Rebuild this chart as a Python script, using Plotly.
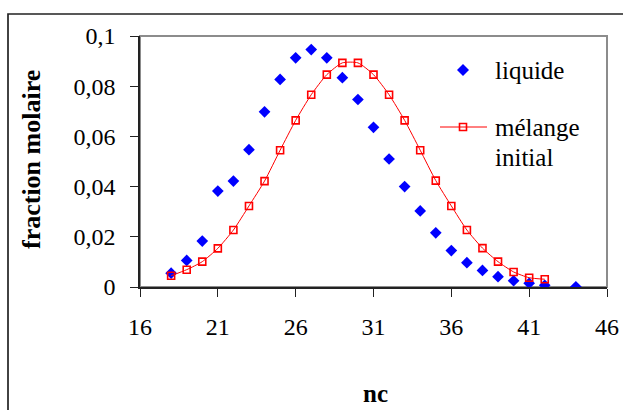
import plotly.graph_objects as go

# --- data ---
nc_liquide = [18, 19, 20, 21, 22, 23, 24, 25, 26, 27, 28, 29, 30, 31, 32, 33, 34,
              35, 36, 37, 38, 39, 40, 41, 42, 44]
frac_liquide = [0.0055, 0.0106, 0.0183, 0.0382, 0.0422, 0.0547, 0.0698, 0.0827,
                0.0913, 0.0946, 0.0913, 0.0834, 0.0747, 0.0636, 0.0510, 0.0400,
                0.0303, 0.0216, 0.0145, 0.0097, 0.0066, 0.0041, 0.0025, 0.0015,
                0.0007, 0.0001]

nc_melange = [18, 19, 20, 21, 22, 23, 24, 25, 26, 27, 28, 29, 30, 31, 32, 33, 34,
              35, 36, 37, 38, 39, 40, 41, 42]
frac_melange = [0.0045, 0.0069, 0.0101, 0.0154, 0.0227, 0.0323, 0.0422, 0.0545,
                0.0664, 0.0766, 0.0846, 0.0893, 0.0893, 0.0846, 0.0766, 0.0664,
                0.0545, 0.0424, 0.0323, 0.0227, 0.0155, 0.0101, 0.0060, 0.0037,
                0.0031]

x_ticks = [16, 21, 26, 31, 36, 41, 46]
y_ticks = [0, 0.02, 0.04, 0.06, 0.08, 0.1]
y_ticktext = ["0", "0,02", "0,04", "0,06", "0,08", "0,1"]

legend_names = ["liquide", "mélange", "initial"]

FONT = "Liberation Serif"
BLUE = "#0000FF"
RED = "#FF0000"

# geometry helpers (pixels -> paper)
L, R, T, B = 140, 607, 36, 287
W, H = 623, 410
def px(x):
    return (x - L) / (R - L)
def py(y):
    return (B - y) / (B - T)

fig = go.Figure()

fig.add_trace(go.Scatter(
    x=nc_liquide, y=frac_liquide, mode="markers", name="liquide",
    showlegend=False,
    marker=dict(symbol="diamond", size=9, color=BLUE, line=dict(width=0)),
))
fig.add_trace(go.Scatter(
    x=nc_melange, y=frac_melange, mode="lines+markers", name="mélange initial",
    showlegend=False,
    line=dict(color=RED, width=1, shape="spline", smoothing=0.6),
    marker=dict(symbol="square-open", size=7, color=RED,
                line=dict(width=1.6, color=RED)),
))

# legend glyphs (layout shapes, pixel positions)
dcx, dcy, dr = 463, 70, 6
diamond_path = "M {} {} L {} {} L {} {} L {} {} Z".format(
    px(dcx), py(dcy - dr), px(dcx + dr), py(dcy),
    px(dcx), py(dcy + dr), px(dcx - dr), py(dcy))
scx, scy, sr = 463, 127, 3.5

shapes = [
    # plot area border (gray top/right)
    dict(type="rect", xref="paper", yref="paper", x0=0, y0=0, x1=1, y1=1,
         line=dict(color="#8C8C8C", width=2), layer="below"),
    # outer chart frame
    dict(type="rect", xref="paper", yref="paper",
         x0=px(8), y0=py(430), x1=px(640), y1=py(14),
         line=dict(color="#222222", width=1.7), layer="below"),
    # legend: diamond
    dict(type="path", xref="paper", yref="paper", path=diamond_path,
         fillcolor=BLUE, line=dict(width=0), layer="above"),
    # legend: red line with square
    dict(type="line", xref="paper", yref="paper",
         x0=px(440), x1=px(487), y0=py(127), y1=py(127),
         line=dict(color=RED, width=1), layer="above"),
    dict(type="rect", xref="paper", yref="paper",
         x0=px(scx - sr), x1=px(scx + sr), y0=py(scy + sr), y1=py(scy - sr),
         fillcolor="rgba(0,0,0,0)", line=dict(color=RED, width=1.6),
         layer="above"),
]

annotations = [
    dict(text="<b>fraction molaire</b>", textangle=-90,
         xref="paper", yref="paper", x=px(31), y=py(160),
         xanchor="center", yanchor="middle", showarrow=False,
         font=dict(family=FONT, size=26, color="black")),
    dict(text="<b>nc</b>",
         xref="paper", yref="paper", x=px(375), y=py(393),
         xanchor="center", yanchor="middle", showarrow=False,
         font=dict(family=FONT, size=25, color="black")),
]
for name, ycen in zip(legend_names, [70, 127, 157]):
    annotations.append(dict(
        text=name, xref="paper", yref="paper", x=px(493), y=py(ycen),
        xanchor="left", yanchor="middle", showarrow=False,
        font=dict(family=FONT, size=25, color="black")))

fig.update_layout(
    width=W, height=H, autosize=False,
    margin=dict(l=L, r=W - R, t=T, b=H - B, pad=0, autoexpand=False),
    paper_bgcolor="white", plot_bgcolor="white",
    font=dict(family=FONT, size=24, color="black"),
    showlegend=False,
    xaxis=dict(
        range=[16, 46], tickvals=x_ticks, ticktext=[str(v) for v in x_ticks],
        showgrid=False, zeroline=False, automargin=False,
        showline=True, linecolor="#222222", linewidth=1.5,
        ticks="outside", ticklen=8, tickwidth=1.2, tickcolor="#222222",
        ticklabelstandoff=9,
        tickfont=dict(family=FONT, size=24, color="black"),
    ),
    yaxis=dict(
        range=[0, 0.1], tickvals=y_ticks, ticktext=y_ticktext,
        showgrid=False, zeroline=False, automargin=False,
        showline=True, linecolor="#222222", linewidth=1.5,
        ticks="outside", ticklen=8, tickwidth=1.2, tickcolor="#222222",
        ticklabelstandoff=10,
        tickfont=dict(family=FONT, size=24, color="black"),
    ),
    shapes=shapes,
    annotations=annotations,
)

fig.write_html(
    "out.html",
    config={"displayModeBar": False, "responsive": False},
    post_script="document.body.style.margin='0';document.body.style.overflow='hidden';",
)
